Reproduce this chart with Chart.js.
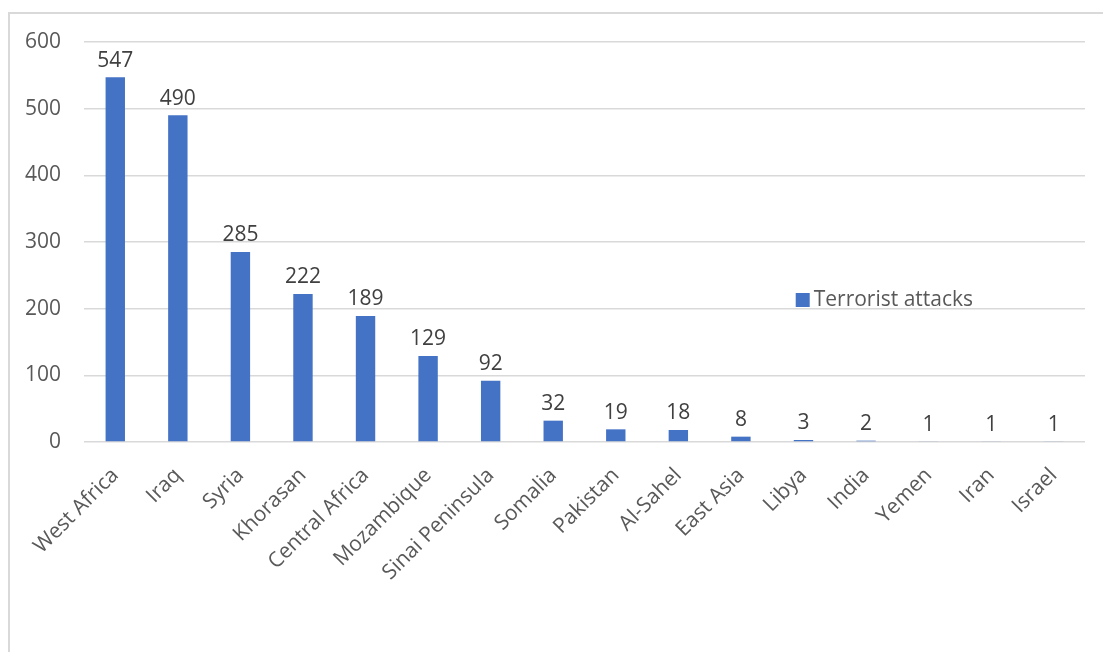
<!DOCTYPE html>
<html>
<head>
<meta charset="utf-8">
<script src="https://cdn.jsdelivr.net/npm/chart.js@4.4.0/dist/chart.umd.min.js"></script>
<style>
    html, body { margin: 0; padding: 0; background: #fff; overflow: hidden; }
    #frame { position: absolute; left: 8px; top: 12px; width: 1200px; height: 700px;
             border-left: 2px solid #d9d9d9; border-top: 2px solid #d9d9d9; }
    #wrap { position: absolute; left: 0; top: 0; width: 1103px; height: 652px; }
</style>
</head>
<body>
<div id="frame"></div>
<div id="wrap"><canvas id="attackChart" width="1103" height="652"></canvas></div>
<script>
const regions = ['West Africa', 'Iraq', 'Syria', 'Khorasan', 'Central Africa', 'Mozambique',
    'Sinai Peninsula', 'Somalia', 'Pakistan', 'Al-Sahel', 'East Asia', 'Libya', 'India',
    'Yemen', 'Iran', 'Israel'];
const attacks = [547, 490, 285, 222, 189, 129, 92, 32, 19, 18, 8, 3, 2, 1, 1, 1];
const yTicks = [0, 100, 200, 300, 400, 500, 600];
const seriesName = 'Terrorist attacks';

const FONT = "'Open Sans', sans-serif";
const BLUE = '#4472c4';

// value labels above each bar
const valueLabels = {
    id: 'valueLabels',
    afterDatasetsDraw(chart) {
        const ctx = chart.ctx;
        const meta = chart.getDatasetMeta(0);
        ctx.save();
        ctx.font = '21px ' + FONT;
        ctx.fillStyle = '#404040';
        ctx.textAlign = 'center';
        ctx.textBaseline = 'bottom';
        meta.data.forEach((bar, i) => {
            ctx.fillText(String(attacks[i]), bar.x, bar.y - 6);
        });
        ctx.restore();
    }
};

// legend sitting inside the plot, like the original
const innerLegend = {
    id: 'innerLegend',
    afterDraw(chart) {
        const ctx = chart.ctx;
        const area = chart.chartArea;
        const x = area.left + (area.right - area.left) * 0.711;
        const y = chart.scales.y.getPixelForValue(213);
        ctx.save();
        ctx.fillStyle = BLUE;
        ctx.fillRect(x, y - 7, 14, 14);
        ctx.font = '21px ' + FONT;
        ctx.fillStyle = '#595959';
        ctx.textAlign = 'left';
        ctx.textBaseline = 'middle';
        ctx.fillText(seriesName, x + 18, y);
        ctx.restore();
    }
};

new Chart(document.getElementById('attackChart'), {
    type: 'bar',
    data: {
        labels: regions,
        datasets: [{
            label: seriesName,
            data: attacks,
            backgroundColor: BLUE,
            barPercentage: 0.31,
            categoryPercentage: 1,
        }],
    },
    options: {
        responsive: false,
        animation: false,
        layout: { padding: { top: 42, right: 18, left: 0, bottom: 0 } },
        plugins: {
            legend: { display: false },
            tooltip: { enabled: false },
        },
        scales: {
            x: {
                grid: { display: false },
                border: { display: false },
                ticks: {
                    color: '#595959',
                    font: { family: FONT, size: 21 },
                    minRotation: 45,
                    maxRotation: 45,
                    autoSkip: false,
                    padding: 13,
                },
                afterFit(scale) { scale.height = 210; },
            },
            y: {
                min: 0,
                max: 600,
                afterBuildTicks(scale) { scale.ticks = yTicks.map(v => ({ value: v })); },
                grid: { color: '#d9d9d9', lineWidth: 1.5, drawTicks: false },
                border: { display: false },
                ticks: {
                    color: '#595959',
                    font: { family: FONT, size: 21 },
                    padding: 23,
                },
                afterFit(scale) { scale.width = 84; },
            },
        },
    },
    plugins: [valueLabels, innerLegend],
});
</script>
</body>
</html>
